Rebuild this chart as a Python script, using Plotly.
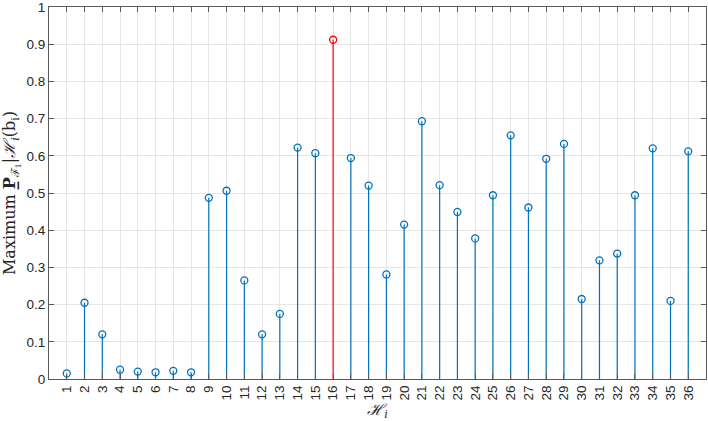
import plotly.graph_objects as go

categories = list(range(1, 37))
values = [0.015, 0.205, 0.12, 0.025, 0.02, 0.018, 0.022, 0.018, 0.487, 0.506,
          0.265, 0.12, 0.175, 0.622, 0.607, 0.912, 0.594, 0.52, 0.281, 0.415,
          0.693, 0.521, 0.449, 0.378, 0.494, 0.655, 0.461, 0.592, 0.632, 0.215,
          0.319, 0.337, 0.494, 0.62, 0.21, 0.612]
highlight = 16
tick_labels = [str(c) for c in categories]
y_ticks = [0, 0.1, 0.2, 0.3, 0.4, 0.5, 0.6, 0.7, 0.8, 0.9, 1]
y_tick_labels = ["0", "0.1", "0.2", "0.3", "0.4", "0.5", "0.6", "0.7", "0.8", "0.9", "1"]

blue = "#0072BD"
red = "#FF0000"

fig = go.Figure()

def stems(xs, ys, color):
    lx, ly = [], []
    for x, y in zip(xs, ys):
        lx += [x, x, None]
        ly += [0, y, None]
    fig.add_trace(go.Scatter(x=lx, y=ly, mode="lines", line=dict(color=color, width=1.2),
                             hoverinfo="skip", showlegend=False, cliponaxis=False))
    fig.add_trace(go.Scatter(x=xs, y=ys, mode="markers",
                             marker=dict(symbol="circle-open", size=7, color=color,
                                         line=dict(width=1.3, color=color)),
                             showlegend=False))

bx = [c for c in categories if c != highlight]
by = [v for c, v in zip(categories, values) if c != highlight]
rx = [c for c in categories if c == highlight]
ry = [v for c, v in zip(categories, values) if c == highlight]
stems(bx, by, blue)
stems(rx, ry, red)

axis_common = dict(
    showline=True, linecolor="#5a5a5a", linewidth=1, mirror="ticks",
    ticks="inside", ticklen=5, tickcolor="#5a5a5a",
    showgrid=True, gridcolor="#e6e6e6", gridwidth=1, zeroline=False,
    ticklabeloverflow="allow", automargin=False,
    tickfont=dict(family="Liberation Sans, Arial", size=13.5, color="#262626"),
)

fig.update_xaxes(range=[0, 37], tickvals=categories, ticktext=tick_labels,
                 tickangle=-90,
                 title=dict(text="<i>ℋ<sub>i</sub></i>", standoff=2,
                            font=dict(family="DejaVu Serif, serif", size=16, color="#262626")),
                 **axis_common)
fig.update_yaxes(range=[0, 1], tickvals=y_ticks, ticktext=y_tick_labels,
                 title=dict(text="Maximum <b>P̲</b><sub>ℱ<sub>1</sub></sub>|<i>ℋ<sub>i</sub></i>(b<sub>i</sub>)",
                            standoff=6,
                            font=dict(family="DejaVu Serif, serif", size=16, color="#262626")),
                 **axis_common)

fig.update_layout(width=708, height=421, margin=dict(l=49, r=2, t=7, b=42),
                  plot_bgcolor="white", paper_bgcolor="white")

fig.write_html("out.html")
